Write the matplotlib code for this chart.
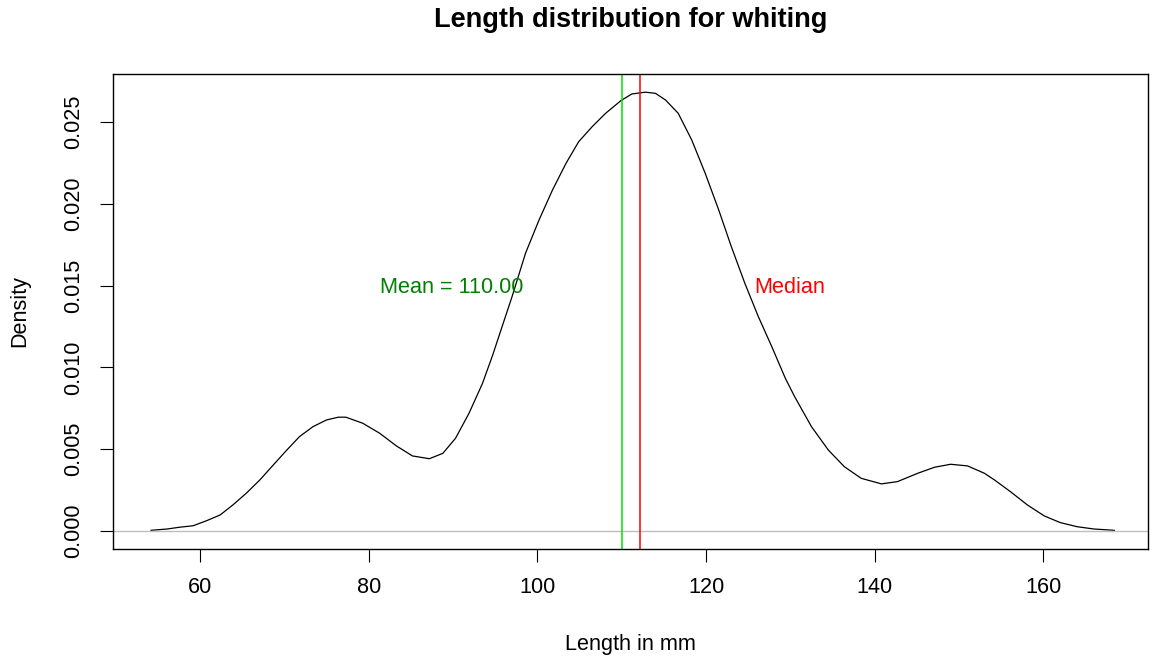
import matplotlib
matplotlib.use("Agg")
import matplotlib.pyplot as plt

plt.rcParams["font.family"] = ["Liberation Sans", "DejaVu Sans"]

# density curve (length in mm, density)
length_mm = [54.2, 56.1, 57.6, 59.2, 60.8, 62.4, 63.9, 65.5, 67.1, 68.7,
             70.3, 71.8, 73.4, 75.0, 76.4, 77.3, 79.3, 81.3, 83.3, 85.2,
             87.2, 88.8, 90.3, 91.9, 93.5, 94.7, 95.5, 97.0, 98.6, 100.2,
             101.8, 103.4, 104.9, 106.5, 108.1, 109.9, 111.2, 112.8, 114.0,
             115.2, 116.7, 118.3, 119.9, 121.5, 123.0, 124.6, 126.2, 127.8,
             129.4, 130.5, 132.5, 134.5, 136.4, 138.4, 140.8, 142.7, 145.1,
             147.1, 149.0, 151.0, 153.0, 154.2, 156.1, 158.1, 160.1, 162.0,
             164.0, 166.0, 168.4]
density = [0.00004, 0.00012, 0.00023, 0.00032, 0.00063, 0.00098, 0.00159,
           0.00231, 0.00312, 0.00404, 0.00495, 0.00577, 0.00638, 0.00679,
           0.00696, 0.00696, 0.00659, 0.00598, 0.00520, 0.00459, 0.00442,
           0.00475, 0.00567, 0.00720, 0.00903, 0.01075, 0.01200, 0.01433,
           0.01699, 0.01902, 0.02086, 0.02249, 0.02381, 0.02473, 0.02555,
           0.02632, 0.02673, 0.02684, 0.02677, 0.02636, 0.02555, 0.02392,
           0.02188, 0.01964, 0.01739, 0.01515, 0.01311, 0.01127, 0.00934,
           0.00822, 0.00638, 0.00495, 0.00393, 0.00322, 0.00288, 0.00302,
           0.00353, 0.00390, 0.00408, 0.00398, 0.00353, 0.00312, 0.00240,
           0.00159, 0.00092, 0.00051, 0.00026, 0.00012, 0.00004]

mean_len = 110.0
median_len = 112.2
x_ticks = [60, 80, 100, 120, 140, 160]
y_ticks = [0.000, 0.005, 0.010, 0.015, 0.020, 0.025]

fig = plt.figure(figsize=(11.5, 6.61), dpi=100)
ax = fig.add_axes([0.0983, 0.170, 0.900, 0.718])

ax.plot(length_mm, density, color="black", lw=0.9, solid_joinstyle="round")
ax.axhline(0, color="#bebebe", lw=1)
ax.axvline(mean_len, color="#00e000", lw=1.1)
ax.axvline(median_len, color="#ff0000", lw=1.1)

ax.text(89.8, 0.0149, "Mean = %.2f" % mean_len, color="#008000",
        fontsize=15.6, ha="center", va="center")
ax.text(129.9, 0.0149, "Median", color="#ff0000",
        fontsize=15.6, ha="center", va="center")

ax.set_xlim(49.7, 172.4)
ax.set_ylim(-0.00108, 0.02795)
ax.set_xticks(x_ticks)
ax.set_yticks(y_ticks)
ax.set_xticklabels([str(t) for t in x_ticks], fontsize=15.6)
ax.set_yticklabels(["%.3f" % t for t in y_ticks], fontsize=15.6,
                   rotation=90, va="center")
ax.tick_params(length=9.5, width=0.8, pad=11)
for s in ax.spines.values():
    s.set_linewidth(1)

ax.set_xlabel("Length in mm", fontsize=15.6, va="center")
ax.xaxis.set_label_coords(0.5, -0.203)
ax.set_ylabel("Density", fontsize=15.6, va="center")
ax.yaxis.set_label_coords(-0.0899, 0.5)
# title centred over the plot region, like R's main=
ax.text(0.5, 0.969, "Length distribution for whiting", fontsize=19.5,
        fontweight="bold", ha="center", va="center",
        transform=matplotlib.transforms.blended_transform_factory(ax.transAxes, fig.transFigure))

fig.savefig("out.png", dpi=100)
